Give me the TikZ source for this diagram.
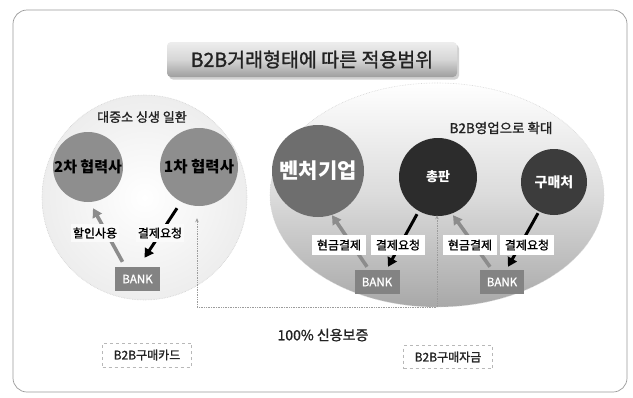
\documentclass[tikz,border=0pt]{standalone}
\usepackage{fontspec}
\setmainfont{Noto Sans CJK KR}
\newfontfamily\krmed{Noto Sans CJK KR}[FakeBold=1.2]
\usetikzlibrary{arrows.meta,calc,shadings}
\definecolor{framec}{HTML}{9A9A9A}
\definecolor{txt}{HTML}{222222}
\definecolor{lightc}{HTML}{8E8E8E}
\definecolor{midc}{HTML}{6E6E6E}
\definecolor{darkc}{HTML}{2C2C2C}
\definecolor{darkc2}{HTML}{3C3C3C}
\definecolor{bankc}{HTML}{838383}
\definecolor{garrc}{HTML}{8C8C8C}
\definecolor{dotc}{HTML}{9C9C9C}
\begin{document}
\begin{tikzpicture}[x=1pt,y=-1pt,
  circ/.style={circle, inner sep=0pt, font=\bfseries},
  lbl/.style={inner sep=0pt, text=txt},
  wlbl/.style={rectangle, fill=white, inner sep=0pt, minimum width=54pt, minimum height=20pt, text=black, font=\krmed\fontsize{12}{12}\selectfont},
  bankbox/.style={rectangle, fill=bankc, text=white, inner sep=0pt, minimum width=45pt, minimum height=24pt, font=\krmed\fontsize{11.5}{12}\selectfont},
  dbox/.style={rectangle, draw=framec!70, dashed, line width=0.5pt, fill=white, inner sep=0pt, minimum width=89pt, minimum height=24pt, text=txt, font=\krmed\fontsize{12}{12}\selectfont},
  garr/.style={draw=garrc, line width=3.6pt, -{Triangle[length=9pt,width=10pt]}},
  barr/.style={draw=black, line width=3pt, -{Triangle[length=9pt,width=10pt]}},
  dotconn/.style={draw=dotc, line width=0.7pt, densely dotted}
]
\useasboundingbox (0,0) rectangle (633,397);
\fill[white] (0,0) rectangle (633,397);
\draw[framec, rounded corners=14pt, line width=0.7pt] (13,10) rectangle (627,392);

% title
\fill[gray!35, rounded corners=4pt] (169,44.5) rectangle (459,79.5);
\node[rectangle, rounded corners=4pt, minimum width=290pt, minimum height=35pt, inner sep=0pt,
      top color=white!93!black, bottom color=white!62!black, middle color=white!84!black,
      text=txt, font=\krmed\fontsize{19.5}{20}\selectfont] (title) at (312,59.5) {B2B거래형태에 따른 적용범위};

% regions
\shade[inner color=white, outer color=white!93!black] (144.5,197.5) circle [radius=102.5];
\draw[white!82!black, densely dotted, line width=0.6pt] (144.5,197.5) circle [radius=102.5];
\shade[top color=white, bottom color=white!66!black, middle color=white!86!black] (437,195) ellipse [x radius=167, y radius=112];
\draw[white!84!black, densely dotted, line width=0.6pt] (437,195) ellipse [x radius=167, y radius=112];

% region titles
\node[lbl, font=\krmed\fontsize{13}{13}\selectfont] (tl) at (142,117) {대중소 싱생 일환};
\node[lbl, font=\krmed\fontsize{13.5}{14}\selectfont] (tr) at (501,128) {B2B영업으로 확대};

% companies
\node[circ, fill=lightc, minimum size=70pt, text=black, font=\bfseries\fontsize{15}{15}\selectfont] (c2) at (88,167) {2차 협력사};
\node[circ, fill=lightc, minimum size=78pt, text=black, font=\bfseries\fontsize{15.5}{16}\selectfont] (c1) at (199,167) {1차 협력사};
\node[circ, fill=midc, minimum size=92pt, text=white, font=\bfseries\fontsize{21}{22}\selectfont] (venture) at (318,171) {벤처기업};
\node[circ, fill=darkc, minimum size=78pt, text=white, font=\bfseries\fontsize{13}{13}\selectfont] (chong) at (438,177) {\raisebox{-9pt}{총판}};
\node[circ, fill=darkc2, minimum size=66pt, text=white, font=\bfseries\fontsize{14}{15}\selectfont] (gumae) at (554,182) {구매처};

% banks
\node[bankbox] (bankL) at (137.5,279) {BANK};
\node[bankbox] (bank1) at (377,282) {BANK};
\node[bankbox, minimum width=44pt] (bank2) at (502,282) {BANK};

% dotted guarantee connector
\coordinate (gR) at (437,307);
\draw[dotconn, {Stealth[length=4pt,width=3.5pt]}-{Stealth[length=4pt,width=3.5pt]}]
  ($(c1.south)+(-2,12)$) |- (gR) -- ($(chong.south)+(-1,-1)$);

% arrows
\draw[garr] ($(bankL.north)+(-15,-5)$) -- ($(c2.south)+(5,6)$);
\draw[barr] ($(c1.south)+(-22,2)$) -- ($(bankL.north)+(7,-9)$);
\draw[garr] ($(bank1.north)+(-10,-3)$) -- ($(venture.south)+(14,-2)$);
\draw[barr] ($(chong.south)+(-21,-2)$) -- ($(bank1.north)+(11,-3)$);
\draw[garr] ($(bank2.north)+(-12,-3)$) -- ($(chong.south)+(15,-1)$);
\draw[barr] ($(gumae.south)+(-16,-2)$) -- ($(bank2.north)+(6,-3)$);

% arrow labels
\node[wlbl, minimum width=48pt, minimum height=18pt, fill=white!98!black] (l1) at (95,233) {할인사용};
\node[wlbl, minimum width=48pt, minimum height=18pt, fill=white!98!black] (l2) at (160,233) {결제요청};
\node[wlbl] (l3) at (339,245) {현금결제};
\node[wlbl] (l4) at (398,245) {결제요청};
\node[wlbl] (l5) at (470,245) {현금결제};
\node[wlbl] (l6) at (527,245) {결제요청};

% bottom texts
\node[lbl, font=\krmed\fontsize{14}{14}\selectfont] (guar) at (323,335) {100\% 신용보증};
\node[dbox] (card) at (147,355) {B2B구매카드};
\node[dbox, minimum height=23pt] (fund) at (448,357) {B2B구매자금};
\end{tikzpicture}
\end{document}
